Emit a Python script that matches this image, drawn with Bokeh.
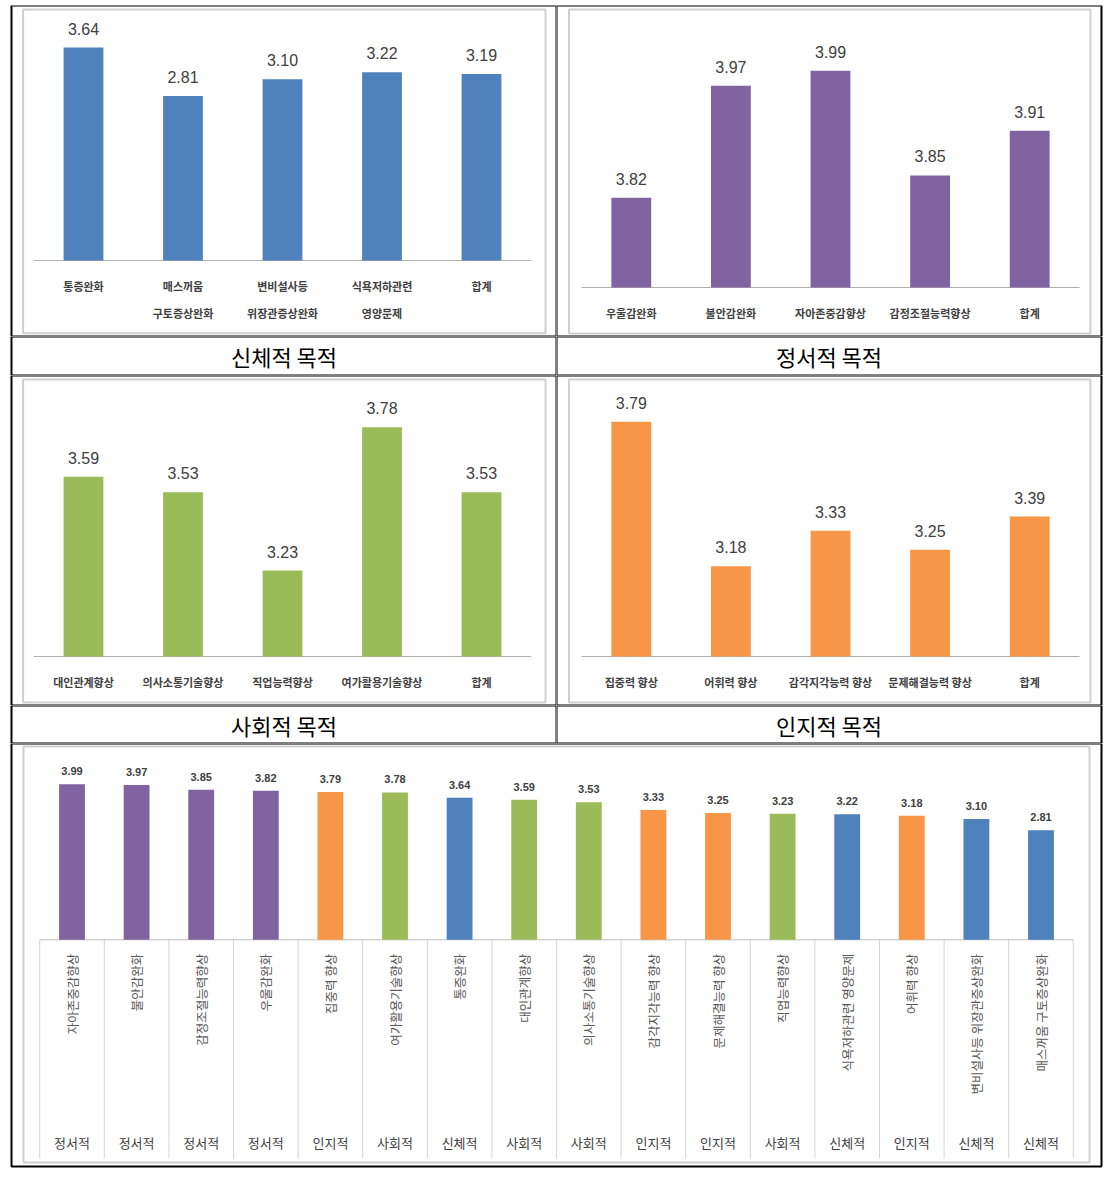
import math
from bokeh.plotting import figure
from bokeh.layouts import column, row
from bokeh.models import FactorRange, Range1d, Spacer
from bokeh.core.properties import value
from bokeh.embed import file_html
from bokeh.resources import INLINE

# ---------------- data ----------------
physical_cats = ["통증완화", "매스꺼움\n구토증상완화", "변비설사등\n위장관증상완화", "식욕저하관련\n영양문제", "합계"]
physical_vals = [3.64, 2.81, 3.10, 3.22, 3.19]

emotional_cats = ["우울감완화", "불안감완화", "자아존중감향상", "감정조절능력향상", "합계"]
emotional_vals = [3.82, 3.97, 3.99, 3.85, 3.91]

social_cats = ["대인관계향상", "의사소통기술향상", "직업능력향상", "여가활용기술향상", "합계"]
social_vals = [3.59, 3.53, 3.23, 3.78, 3.53]

cognitive_cats = ["집중력 향상", "어휘력 향상", "감각지각능력 향상", "문제해결능력 향상", "합계"]
cognitive_vals = [3.79, 3.18, 3.33, 3.25, 3.39]

rank_cats = ["자아존중감향상", "불안감완화", "감정조절능력향상", "우울감완화", "집중력 향상",
             "여가활용기술향상", "통증완화", "대인관계향상", "의사소통기술향상", "감각지각능력 향상",
             "문제해결능력 향상", "직업능력향상", "식욕저하관련 영양문제", "어휘력 향상",
             "변비설사등 위장관증상완화", "매스꺼움 구토증상완화"]
rank_vals = [3.99, 3.97, 3.85, 3.82, 3.79, 3.78, 3.64, 3.59, 3.53, 3.33, 3.25, 3.23, 3.22, 3.18, 3.10, 2.81]
rank_groups = ["정서적", "정서적", "정서적", "정서적", "인지적", "사회적", "신체적", "사회적", "사회적",
               "인지적", "인지적", "사회적", "신체적", "인지적", "신체적", "신체적"]

captions = ["신체적 목적", "정서적 목적", "사회적 목적", "인지적 목적"]

COLORS = {"신체적": "#4F81BD", "정서적": "#8064A2", "사회적": "#9BBB59", "인지적": "#F79646"}

KFONT = "Noto Sans CJK KR"
NFONT = "Liberation Sans"
TXT = "#404040"
FRAME = "#cfcfcf"


def base_fig(W, H, xr, yr):
    p = figure(width=W, height=H, x_range=xr, y_range=yr, output_backend="svg",
               toolbar_location=None, tools="", x_axis_location=None, y_axis_location=None,
               min_border=0, outline_line_color=None, title=None)
    p.grid.visible = False
    p.background_fill_color = "white"
    p.border_fill_color = "white"
    return p


def bar_cell(cats, vals, color, W, H, band, B, v0, k, frame_box, border_box):
    n = len(cats)
    pad = (W / band - n) / 2.0
    xr = FactorRange(factors=cats, range_padding=pad, range_padding_units="absolute", factor_padding=0)
    yr = Range1d(v0 + (B - H) / k, v0 + B / k)
    p = base_fig(W, H, xr, yr)
    x_of = lambda px: -pad + px / band
    y_of = lambda py: v0 + (B - py) / k
    # chart area frame
    l, t, r, b = frame_box
    p.quad(left=[x_of(l)], right=[x_of(r)], top=[y_of(t)], bottom=[y_of(b)],
           fill_color=None, line_color=FRAME, line_width=2)
    # baseline (category axis line)
    p.segment(x0=[0], x1=[n], y0=[v0], y1=[v0], line_color="#b0b0b0", line_width=1)
    p.vbar(x=cats, top=vals, bottom=v0, width=0.4, fill_color=color, line_color=None)
    p.text(x=cats, y=vals, text=[f"{v:.2f}" for v in vals], y_offset=-19,
           text_align="center", text_baseline="middle", text_font=value(NFONT),
           text_font_size="16px", text_color=TXT)
    line1 = [c.split("\n")[0] for c in cats]
    line2 = [c.split("\n")[1] if "\n" in c else "" for c in cats]
    p.text(x=cats, y=[v0] * n, text=line1, y_offset=25, text_align="center", text_baseline="middle",
           text_font=value(KFONT), text_font_style="bold", text_font_size="11px", text_color=TXT)
    p.text(x=cats, y=[v0] * n, text=line2, y_offset=52, text_align="center", text_baseline="middle",
           text_font=value(KFONT), text_font_style="bold", text_font_size="11px", text_color=TXT)
    # table cell border
    l, t, r, b = border_box
    p.quad(left=[x_of(l)], right=[x_of(r)], top=[y_of(t)], bottom=[y_of(b)],
           fill_color=None, line_color="black", line_width=2)
    return p


def caption_cell(text, W, H, cx, cy, border_box):
    p = base_fig(W, H, Range1d(0, W), Range1d(H, 0))
    p.text(x=[cx], y=[cy], text=[text], text_align="center", text_baseline="middle",
           text_font=value(KFONT), text_font_style="normal", text_font_size="22px", text_color="black")
    l, t, r, b = border_box
    p.quad(left=[l], right=[r], top=[t], bottom=[b], fill_color=None, line_color="black", line_width=2)
    return p


# ---------------- cells (page origin shifted by 8px left spacer, 5px top spacer) ----------------
LW, RW = 548, 548
tl = bar_cell(physical_cats, physical_vals, COLORS["신체적"], LW, 331, 99.5, 255, 0.0, 58.5,
              (14.6, 4, 537, 327.7), (3, 0, LW, 331))
tr = bar_cell(emotional_cats, emotional_vals, COLORS["정서적"], RW, 331, 99.6, 282, 3.7, 747,
              (12.5, 4, 534, 328), (0, 0, 545, 331))
cap1l = caption_cell(captions[0], LW, 39, 275.5, 19.5, (3, 0, LW, 39))
cap1r = caption_cell(captions[1], RW, 39, 272.5, 19.5, (0, 0, 545, 39))
ml = bar_cell(social_cats, social_vals, COLORS["사회적"], LW, 330, 99.5, 281, 2.9, 260.6,
              (14.6, 4, 537, 327), (3, 0, LW, 330))
mr = bar_cell(cognitive_cats, cognitive_vals, COLORS["인지적"], RW, 330, 99.6, 281, 2.8, 237.2,
              (12.5, 4, 534, 327), (0, 0, 545, 330))
cap2l = caption_cell(captions[2], LW, 38, 275.5, 19, (3, 0, LW, 38))
cap2r = caption_cell(captions[3], RW, 38, 272.5, 19, (0, 0, 545, 38))

# ---------------- ranking chart ----------------
BW, BH = 1096, 427
band, B, v0, k = 64.6, 196.3, 0.0, 39.0
n = len(rank_cats)
pad = (BW / band - n) / 2.0
xr = FactorRange(factors=rank_cats, range_padding=pad, range_padding_units="absolute", factor_padding=0)
yr = Range1d(v0 + (B - BH) / k, v0 + B / k)
bp = base_fig(BW, BH, xr, yr)
bx = lambda px: -pad + px / band
by = lambda py: v0 + (B - py) / k
bp.quad(left=[bx(15)], right=[bx(1081)], top=[by(3)], bottom=[by(419)],
        fill_color=None, line_color=FRAME, line_width=2)
bp.segment(x0=list(range(n + 1)), x1=list(range(n + 1)), y0=[v0] * (n + 1), y1=[by(415)] * (n + 1),
           line_color="#d6d6d6", line_width=1)
bp.segment(x0=[0], x1=[n], y0=[v0], y1=[v0], line_color="#bdbdbd", line_width=1)
bp.vbar(x=rank_cats, top=rank_vals, bottom=v0, width=0.4,
        fill_color=[COLORS[g] for g in rank_groups], line_color=None)
bp.text(x=rank_cats, y=rank_vals, text=[f"{v:.2f}" for v in rank_vals], y_offset=-13,
        text_align="center", text_baseline="middle", text_font=value("Liberation Sans"),
        text_font_style="bold", text_font_size="11px", text_color=TXT)
bp.text(x=rank_cats, y=[v0] * n, text=rank_cats, angle=math.pi / 2, y_offset=14,
        text_align="right", text_baseline="middle", text_font=value(KFONT),
        text_font_size="12.5px", text_color="#595959")
bp.text(x=rank_cats, y=[by(398.7)] * n, text=rank_groups, text_align="center", text_baseline="middle",
        text_font=value(KFONT), text_font_size="13px", text_color=TXT)
bp.quad(left=[bx(3)], right=[bx(1093)], top=[by(0)], bottom=[by(423)],
        fill_color=None, line_color="black", line_width=2)

grid = column(row(tl, tr), row(cap1l, cap1r), row(ml, mr), row(cap2l, cap2r), bp)
layout = row(Spacer(width=8), column(Spacer(height=5), grid))

open("out.html", "w").write(file_html(layout, INLINE))
